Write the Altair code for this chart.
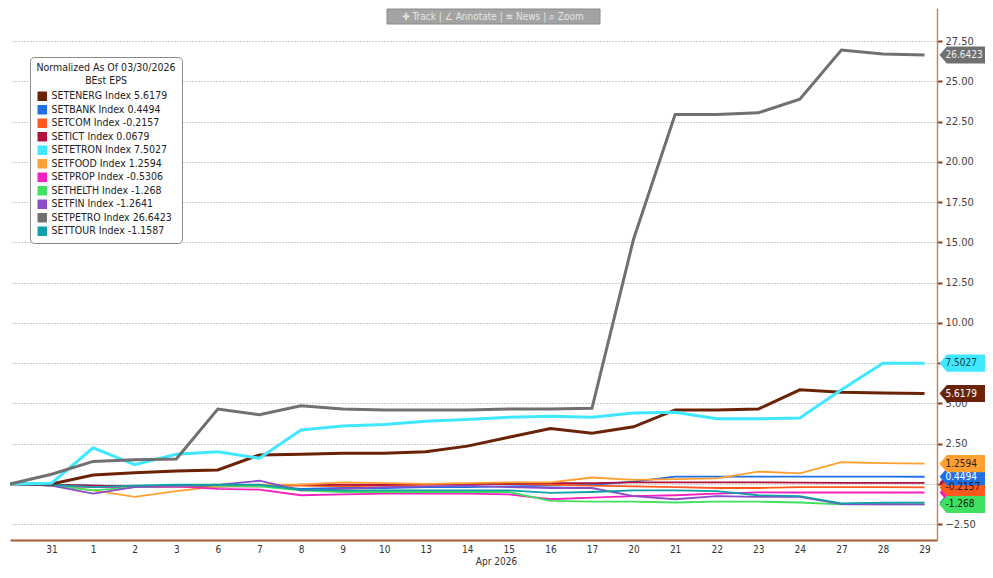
import altair as alt
import pandas as pd

# ---------------- data ----------------
days = ["30", "31", "1", "2", "3", "6", "7", "8", "9", "10", "13", "14", "15",
        "16", "17", "20", "21", "22", "23", "24", "27", "28", "29"]

series = ["SETENERG", "SETBANK", "SETCOM", "SETICT", "SETETRON", "SETFOOD",
          "SETPROP", "SETHELTH", "SETFIN", "SETPETRO", "SETTOUR"]
colors = ["#6b2308", "#1f6fe5", "#ff5a1e", "#b0103a", "#40e8ff", "#ffa030",
          "#f520c0", "#40e060", "#8a4cc8", "#707070", "#10a0a8"]
final_values = [5.6179, 0.4494, -0.2157, 0.0679, 7.5027, 1.2594,
                -0.5306, -1.268, -1.2641, 26.6423, -1.1587]
thick_series = ["SETENERG", "SETETRON", "SETPETRO"]
tag_text_colors = ["#ffffff", "#ffffff", "#2a1a10", "#ffffff", "#123c44", "#222222",
                   "#ffffff", "#102010", "#ffffff", "#eeeeee", "#ffffff"]
tag_draw_order = ["SETICT", "SETFIN", "SETTOUR", "SETPROP", "SETHELTH", "SETCOM",
                  "SETBANK", "SETFOOD", "SETENERG", "SETETRON", "SETPETRO"]
hidden_tag_text = ["SETICT", "SETFIN", "SETTOUR", "SETPROP"]

setenerg = [0, 0.0, 0.55, 0.7, 0.8, 0.87, 1.8, 1.85, 1.9, 1.9, 2.0, 2.35, 2.9,
            3.45, 3.15, 3.55, 4.6, 4.6, 4.65, 5.85, 5.7, 5.65, 5.6179]
setbank = [0, -0.05, -0.1, -0.15, -0.15, -0.15, -0.1, -0.3, -0.25, -0.25, -0.2,
           -0.2, -0.15, -0.1, -0.05, 0.15, 0.45, 0.45, 0.45, 0.45, 0.45, 0.45, 0.4494]
setcom = [0, -0.05, -0.15, -0.2, -0.15, -0.15, -0.1, -0.1, -0.15, -0.1, -0.05,
          0.0, 0.0, -0.05, -0.1, -0.15, -0.2, -0.25, -0.25, -0.2, -0.2, -0.2, -0.2157]
setict = [0, -0.05, -0.1, -0.15, -0.15, -0.15, -0.15, -0.05, -0.05, -0.05, 0.0,
          0.0, 0.0, 0.05, 0.05, 0.1, 0.1, 0.1, 0.1, 0.08, 0.07, 0.07, 0.0679]
setetron = [0, 0.05, 2.25, 1.2, 1.85, 2.0, 1.6, 3.35, 3.6, 3.7, 3.9, 4.0, 4.15,
            4.2, 4.15, 4.4, 4.45, 4.05, 4.05, 4.1, 5.85, 7.5, 7.5027]
setfood = [0, -0.05, -0.4, -0.8, -0.45, -0.15, -0.05, -0.05, 0.1, 0.05, 0.0,
           0.05, 0.1, 0.1, 0.4, 0.25, 0.3, 0.35, 0.77, 0.66, 1.35, 1.3, 1.2594]
setprop = [0, -0.1, -0.2, -0.2, -0.15, -0.3, -0.35, -0.7, -0.65, -0.6, -0.6,
           -0.6, -0.65, -0.95, -0.85, -0.75, -0.7, -0.6, -0.52, -0.53, -0.53, -0.53, -0.5306]
sethelth = [0, -0.1, -0.4, -0.2, -0.1, -0.1, -0.15, -0.4, -0.5, -0.5, -0.5,
            -0.5, -0.5, -1.05, -1.1, -1.1, -1.15, -1.1, -1.1, -1.15, -1.27, -1.27, -1.268]
setfin = [0, -0.1, -0.6, -0.2, -0.1, -0.05, 0.2, -0.4, -0.3, -0.2, -0.15, -0.1,
          -0.2, -0.25, -0.25, -0.75, -0.95, -0.75, -0.8, -0.8, -1.25, -1.26, -1.2641]
setpetro = [0, 0.6, 1.4, 1.5, 1.55, 4.65, 4.3, 4.85, 4.65, 4.6, 4.6, 4.6, 4.65,
            4.65, 4.7, 15.2, 22.95, 22.95, 23.05, 23.9, 26.95, 26.7, 26.6423]
settour = [0, -0.05, -0.2, -0.1, -0.05, -0.05, -0.05, -0.35, -0.4, -0.4, -0.4,
           -0.4, -0.4, -0.55, -0.5, -0.4, -0.4, -0.45, -0.7, -0.75, -1.2, -1.16, -1.1587]

y_ticks = [-2.5, 0, 2.5, 5, 7.5, 10, 12.5, 15, 17.5, 20, 22.5, 25, 27.5]
y_ticks_hidden_label = [0, 7.5]   # covered by the value tags in the reference
x_grid_days = [1, 7, 12, 17]
toolbar_text = "✚ Track  |  ∠ Annotate  |  ≡ News  |  ⌕ Zoom"

# ---------------- tables ----------------
all_values = [setenerg, setbank, setcom, setict, setetron, setfood,
              setprop, sethelth, setfin, setpetro, settour]
legend_labels = [f"{s} Index  {v}" for s, v in zip(series, final_values)]

rows = []
for s, lab, vals in zip(series, legend_labels, all_values):
    for i, v in enumerate(vals):
        rows.append({"series": s, "label": lab, "idx": i, "value": v,
                     "thick": s in thick_series})
df = pd.DataFrame(rows)

tags = pd.DataFrame({
    "series": series,
    "label": legend_labels,
    "idx": [len(days) - 1] * len(series),
    "value": final_values,
    "text": [str(v) for v in final_values],
    "tcolor": tag_text_colors,
    "z": [tag_draw_order.index(s) for s in series],
}).sort_values("z")
tag_texts = tags[~tags["series"].isin(hidden_tag_text)]

FONT = "DejaVu Sans Condensed, Liberation Sans Narrow, Liberation Sans"

x_label_expr = "[" + ",".join(f"'{d}'" for d in days) + "][datum.value]"
y_label_expr = ("(" + " || ".join(f"datum.value == {v}" for v in y_ticks_hidden_label)
                + ") ? '' : format(datum.value, '.2f')")

x_enc = alt.X("idx:Q",
              scale=alt.Scale(domain=[0, 22.3], nice=False, zero=False),
              axis=alt.Axis(values=list(range(1, len(days))), labelExpr=x_label_expr,
                            grid=False, ticks=False, domainColor="#a65a34",
                            domainWidth=2, labelFont=FONT, labelFontSize=10,
                            labelColor="#333", labelPadding=4, title="Apr 2026",
                            titleFont=FONT, titleFontSize=10, titleFontWeight="normal",
                            titleColor="#333", titlePadding=2, titleX=486))
y_enc = alt.Y("value:Q",
              scale=alt.Scale(domain=[-3.48, 29.56], nice=False, zero=False),
              axis=alt.Axis(orient="right", values=y_ticks, labelExpr=y_label_expr,
                            grid=True, gridDash=[1, 2], gridColor="#9a9a9a",
                            domainColor="#c08a6a", domainWidth=1.5,
                            tickColor="#8b3a1a", tickSize=5, tickWidth=2,
                            labelFont=FONT, labelFontSize=11, labelColor="#444",
                            labelPadding=3, title=None))

color_scale = alt.Scale(domain=legend_labels, range=colors)

legend = alt.Legend(orient="none", legendX=20, legendY=49,
                    title=["Normalized As Of 03/30/2026", "BEst EPS"],
                    titleFont=FONT, titleFontSize=10.5, titleFontWeight="normal",
                    titleColor="#222", titleAnchor="middle", titleAlign="center",
                    labelFont=FONT, labelFontSize=10.5, labelColor="#222",
                    labelLimit=220, symbolType="square", symbolSize=90,
                    symbolStrokeWidth=0, rowPadding=2.5, padding=6,
                    strokeColor="#8a8a8a", fillColor="white", cornerRadius=4)

vgrid = alt.Chart(pd.DataFrame({"g": x_grid_days})).mark_rule(
    strokeDash=[1, 2], color="#9a9a9a", strokeWidth=1
).encode(x=x_enc)

tag_path = "M -1 0 L -0.72 -0.33 L 1.1 -0.33 L 1.1 0.33 L -0.72 0.33 Z"
tag_marks = alt.Chart(tags).mark_point(
    shape=tag_path, filled=True, size=2704, opacity=1, strokeWidth=0, xOffset=41
).encode(
    x="idx:Q", y=y_enc,
    color=alt.Color("label:N", scale=color_scale, legend=legend),
    order=alt.Order("z:Q"),
)

thin_lines = alt.Chart(df[~df["thick"]]).mark_line(strokeWidth=1.8).encode(
    x="idx:Q", y="value:Q",
    color=alt.Color("label:N", scale=color_scale, legend=legend),
    detail="series:N",
)
thick_lines = alt.Chart(df[df["thick"]]).mark_line(strokeWidth=3).encode(
    x="idx:Q", y="value:Q",
    color=alt.Color("label:N", scale=color_scale, legend=legend),
    detail="series:N",
)

tag_text = alt.Chart(tag_texts).mark_text(
    align="left", baseline="middle", dx=21, fontSize=10, font=FONT
).encode(
    x="idx:Q", y="value:Q", text="text:N",
    color=alt.Color("tcolor:N", scale=None),
    order=alt.Order("z:Q"),
)

tb = pd.DataFrame({"t": [toolbar_text]})
toolbar_rect = alt.Chart(tb).mark_rect(
    color="#a3a3a3", stroke="#8a8a8a", strokeWidth=1
).encode(x=alt.value(377), x2=alt.value(590), y=alt.value(1), y2=alt.value(16))
toolbar_txt = alt.Chart(tb).mark_text(
    color="#e6e6e6", fontSize=10, font=FONT, align="center", baseline="middle"
).encode(x=alt.value(483), y=alt.value(9), text="t:N")

chart = alt.layer(
    vgrid, tag_marks, thin_lines, thick_lines, tag_text, toolbar_rect, toolbar_txt
).properties(
    width=927, height=532,
    padding={"left": 2, "top": 0, "right": 48, "bottom": 30},
    autosize=alt.AutoSizeParams(type="none"),
    background="white",
).configure_view(stroke=None)

chart.save("out.html", embed_options={"renderer": "svg", "actions": False})
